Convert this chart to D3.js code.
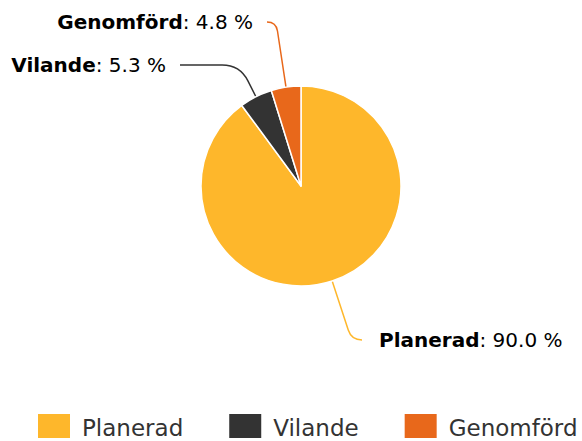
<!DOCTYPE html>
<meta charset="utf-8">
<style>
html, body {
  margin: 0;
  overflow: hidden;
  background: #fff;
}
text {
  font-family: "DejaVu Sans", sans-serif;
}
</style>
<body>
<script src="https://cdn.jsdelivr.net/npm/d3@7"></script>
<script>
var categories = ["Planerad", "Vilande", "Genomförd"];
var values = [90.0, 5.3, 4.8];
var colors = ["#FEB72B", "#333333", "#E8681B"];

var width = 582,
    height = 441,
    cx = 301,
    cy = 186,
    radius = 100;

// where each label's connector ends, relative to the pie centre
var labelAt = {
  "Planerad":  [61, 154],
  "Vilande":   [-121, -121],
  "Genomförd": [-34, -164]
};

var data = categories.map(function(c, i) {
  return {name: c, value: values[i], color: colors[i]};
});

var svg = d3.select("body").append("svg")
    .attr("width", width)
    .attr("height", height);

var pie = d3.pie()
    .sort(null)
    .value(function(d) { return d.value; });

var arc = d3.arc()
    .innerRadius(0)
    .outerRadius(radius);

var arcs = pie(data);

var g = svg.append("g")
    .attr("transform", "translate(" + cx + "," + cy + ")");

// connectors
arcs.forEach(function(a) {
  var mid = (a.startAngle + a.endAngle) / 2,
      ux = Math.sin(mid),
      uy = -Math.cos(mid),
      pos = labelAt[a.data.name],
      ex = pos[0],
      ey = pos[1],
      px = ux * radius,
      py = uy * radius;
  // corner where the radial line meets the label's row
  var t = (ey - py) / uy,
      kx = px + ux * t,
      ky = ey;
  var dir = ex > kx ? 1 : -1,
      k = Math.min(22, Math.abs(ex - kx), t * 0.5);
  var path = d3.path();
  path.moveTo(px, py);
  path.lineTo(kx - ux * k, ky - uy * k);
  path.quadraticCurveTo(kx, ky, kx + dir * k, ky);
  path.lineTo(ex, ey);
  g.append("path")
    .attr("d", path.toString())
    .attr("fill", "none")
    .attr("stroke", a.data.color)
    .attr("stroke-width", 1.5);

  var left = ex < 0;
  var txt = g.append("text")
    .attr("x", ex + (left ? -14 : 17))
    .attr("y", ey + 7)
    .attr("text-anchor", left ? "end" : "start")
    .attr("font-size", 20)
    .attr("fill", "#000");
  txt.append("tspan").attr("font-weight", "bold").text(a.data.name);
  txt.append("tspan").text(": " + a.data.value.toFixed(1) + " %");
});

// slices
g.selectAll("path.slice")
  .data(arcs)
  .enter().append("path")
    .attr("class", "slice")
    .attr("d", arc)
    .attr("fill", function(d) { return d.data.color; })
    .attr("stroke", "#fff")
    .attr("stroke-width", 1.5)
    .attr("stroke-linejoin", "round");

// legend
var legend = svg.append("g");
var lx = 38;
data.forEach(function(d) {
  legend.append("rect")
    .attr("x", lx)
    .attr("y", 414)
    .attr("width", 32)
    .attr("height", 24)
    .attr("fill", d.color);
  var t = legend.append("text")
    .attr("x", lx + 44)
    .attr("y", 436)
    .attr("font-size", 23)
    .attr("fill", "#333")
    .text(d.name);
  lx += 44 + t.node().getComputedTextLength() + 46;
});
</script>
</body>
